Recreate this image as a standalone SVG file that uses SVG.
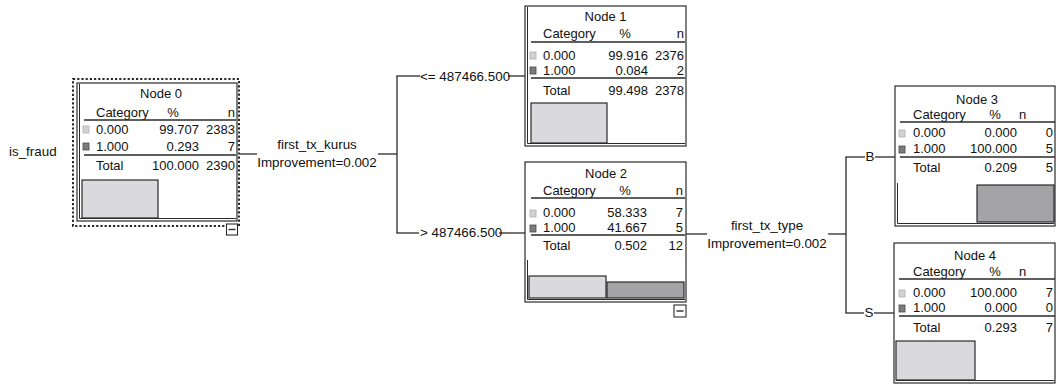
<svg xmlns="http://www.w3.org/2000/svg" width="1056" height="387" viewBox="0 0 1056 387">
<style>
text{font-family:"Liberation Sans",Arial,sans-serif;font-size:13px;fill:#111}
.lb{font-size:13.4px}
.c{text-anchor:middle}
.e{text-anchor:end}
.box{fill:#fff;stroke:#2a2a2a;stroke-width:1.2}
.inner{fill:none;stroke:#2a2a2a;stroke-width:1}
.rule{stroke:#2a2a2a;stroke-width:1.4}
.lt{fill:#d9d9de;stroke:#2a2a2a;stroke-width:1.2}
.dk{fill:#a4a4a6;stroke:#2a2a2a;stroke-width:1.2}
.swl{fill:#d2d2d6;stroke:#b0b0b0;stroke-width:0.8}
.swd{fill:#7c7c80;stroke:#4a4a4a;stroke-width:0.8}
.sel{fill:none;stroke:#2a2a2a;stroke-width:2;stroke-dasharray:2.2 2}
.conn line{stroke:#2a2a2a;stroke-width:1.3}
.mb{fill:#fff;stroke:#2a2a2a;stroke-width:1.1}
</style>

<g id="connectors" class="conn">
  <line x1="240" y1="154" x2="257" y2="154"/>
  <line x1="378" y1="154" x2="397" y2="154"/>
  <line x1="397" y1="76" x2="397" y2="233"/>
  <line x1="396.4" y1="76" x2="420" y2="76"/>
  <line x1="508" y1="76" x2="525" y2="76"/>
  <line x1="396.4" y1="233" x2="419" y2="233"/>
  <line x1="499" y1="233" x2="525" y2="233"/>
  <line x1="686" y1="234" x2="707" y2="234"/>
  <line x1="828" y1="234" x2="846" y2="234"/>
  <line x1="846" y1="157" x2="846" y2="313"/>
  <line x1="845.4" y1="157" x2="865" y2="157"/>
  <line x1="875" y1="157" x2="895" y2="157"/>
  <line x1="845.4" y1="313" x2="864" y2="313"/>
  <line x1="874" y1="313" x2="894" y2="313"/>
</g>

<g id="labels" class="lb">
  <text class="lb" x="9" y="156">is_fraud</text>
  <text class="lb c" x="317" y="149">first_tx_kurus</text>
  <text class="lb c" x="317" y="167">Improvement=0.002</text>
  <text class="lb" x="420" y="81">&lt;= 487466.500</text>
  <text class="lb" x="420" y="237">&gt; 487466.500</text>
  <text class="lb c" x="767" y="230">first_tx_type</text>
  <text class="lb c" x="767" y="248">Improvement=0.002</text>
  <text class="lb c" x="870" y="161">B</text>
  <text class="lb c" x="869" y="317">S</text>
</g>

<g id="node0">
  <rect class="sel" x="73" y="79" width="166" height="147"/>
  <rect class="box" x="77" y="83" width="160" height="138"/>
  <path class="inner" d="M79.5 84 V218.5 H236"/>
  <text class="c" x="161" y="98">Node 0</text>
  <text x="96" y="117">Category</text>
  <text class="c" x="173" y="117">%</text>
  <text class="e" x="235" y="117">n</text>
  <line class="rule" x1="84" y1="120" x2="236" y2="120"/>
  <rect class="swl" x="83" y="126" width="6" height="7"/>
  <text x="96" y="134">0.000</text>
  <text class="e" x="199" y="134">99.707</text>
  <text class="e" x="235" y="134">2383</text>
  <rect class="swd" x="83" y="143" width="6" height="7"/>
  <text x="96" y="151">1.000</text>
  <text class="e" x="199" y="151">0.293</text>
  <text class="e" x="235" y="151">7</text>
  <line class="rule" x1="84" y1="155" x2="236" y2="155"/>
  <text x="96" y="170">Total</text>
  <text class="e" x="199" y="170">100.000</text>
  <text class="e" x="235" y="170">2390</text>
  <rect class="lt" x="82" y="180" width="76" height="38"/>
  <rect class="mb" x="226.5" y="224" width="11" height="11"/>
  <line class="rule" x1="228.5" y1="229.5" x2="235.5" y2="229.5"/>
</g>

<g id="node1">
  <rect class="box" x="525" y="6" width="161" height="140"/>
  <path class="inner" d="M527.5 7 V143.5 H685"/>
  <text class="c" x="605.5" y="21">Node 1</text>
  <text x="543" y="38">Category</text>
  <text class="c" x="625" y="38">%</text>
  <text class="e" x="684" y="38">n</text>
  <line class="rule" x1="531" y1="42" x2="685" y2="42"/>
  <rect class="swl" x="530" y="52" width="6" height="7"/>
  <text x="543" y="60">0.000</text>
  <text class="e" x="648" y="60">99.916</text>
  <text class="e" x="684" y="60">2376</text>
  <rect class="swd" x="530" y="67" width="6" height="7"/>
  <text x="543" y="75">1.000</text>
  <text class="e" x="648" y="75">0.084</text>
  <text class="e" x="684" y="75">2</text>
  <line class="rule" x1="531" y1="78" x2="685" y2="78"/>
  <text x="543" y="95">Total</text>
  <text class="e" x="648" y="95">99.498</text>
  <text class="e" x="684" y="95">2378</text>
  <rect class="lt" x="531" y="103" width="76" height="40"/>
</g>

<g id="node2">
  <rect class="box" x="525" y="162" width="161" height="140"/>
  <path class="inner" d="M527.5 260 V299.5 H685"/>
  <text class="c" x="606" y="178">Node 2</text>
  <text x="543" y="195">Category</text>
  <text class="c" x="625" y="195">%</text>
  <text class="e" x="683" y="195">n</text>
  <line class="rule" x1="531" y1="198" x2="685" y2="198"/>
  <rect class="swl" x="530" y="210" width="6" height="7"/>
  <text x="543" y="217">0.000</text>
  <text class="e" x="647" y="217">58.333</text>
  <text class="e" x="683" y="217">7</text>
  <rect class="swd" x="530" y="225" width="6" height="7"/>
  <text x="543" y="232">1.000</text>
  <text class="e" x="647" y="232">41.667</text>
  <text class="e" x="683" y="232">5</text>
  <line class="rule" x1="531" y1="235" x2="685" y2="235"/>
  <text x="543" y="250">Total</text>
  <text class="e" x="647" y="250">0.502</text>
  <text class="e" x="683" y="250">12</text>
  <rect class="lt" x="529" y="276" width="77" height="22"/>
  <rect class="dk" x="607" y="282" width="77" height="16"/>
  <rect class="mb" x="674" y="305" width="12" height="12"/>
  <line class="rule" x1="676.5" y1="311" x2="683.5" y2="311"/>
</g>

<g id="node3">
  <rect class="box" x="895" y="86" width="160" height="140"/>
  <path class="inner" d="M897.5 183 V223.5 H1054"/>
  <text class="c" x="977" y="104">Node 3</text>
  <text x="913" y="119">Category</text>
  <text class="c" x="995" y="119">%</text>
  <text x="1019" y="119">n</text>
  <line class="rule" x1="900" y1="122" x2="1055" y2="122"/>
  <rect class="swl" x="899" y="130" width="6" height="7"/>
  <text x="913" y="137">0.000</text>
  <text class="e" x="1017" y="137">0.000</text>
  <text class="e" x="1053" y="137">0</text>
  <rect class="swd" x="899" y="146" width="6" height="7"/>
  <text x="913" y="153">1.000</text>
  <text class="e" x="1017" y="153">100.000</text>
  <text class="e" x="1053" y="153">5</text>
  <line class="rule" x1="900" y1="157" x2="1055" y2="157"/>
  <text x="913" y="172">Total</text>
  <text class="e" x="1017" y="172">0.209</text>
  <text class="e" x="1053" y="172">5</text>
  <rect class="dk" x="977" y="185" width="77" height="37"/>
</g>

<g id="node4">
  <rect class="box" x="894" y="243" width="161" height="140"/>
  <path class="inner" d="M896.5 341 V380.5 H1054"/>
  <text class="c" x="975" y="260">Node 4</text>
  <text x="913" y="276">Category</text>
  <text class="c" x="995" y="276">%</text>
  <text x="1019" y="276">n</text>
  <line class="rule" x1="899" y1="279" x2="1055" y2="279"/>
  <rect class="swl" x="899" y="290" width="6" height="7"/>
  <text x="913" y="297">0.000</text>
  <text class="e" x="1017" y="297">100.000</text>
  <text class="e" x="1053" y="297">7</text>
  <rect class="swd" x="899" y="305" width="6" height="7"/>
  <text x="913" y="312">1.000</text>
  <text class="e" x="1017" y="312">0.000</text>
  <text class="e" x="1053" y="312">0</text>
  <line class="rule" x1="899" y1="316" x2="1055" y2="316"/>
  <text x="913" y="332">Total</text>
  <text class="e" x="1017" y="332">0.293</text>
  <text class="e" x="1053" y="332">7</text>
  <rect class="lt" x="896" y="341" width="79" height="39"/>
</g>
</svg>
